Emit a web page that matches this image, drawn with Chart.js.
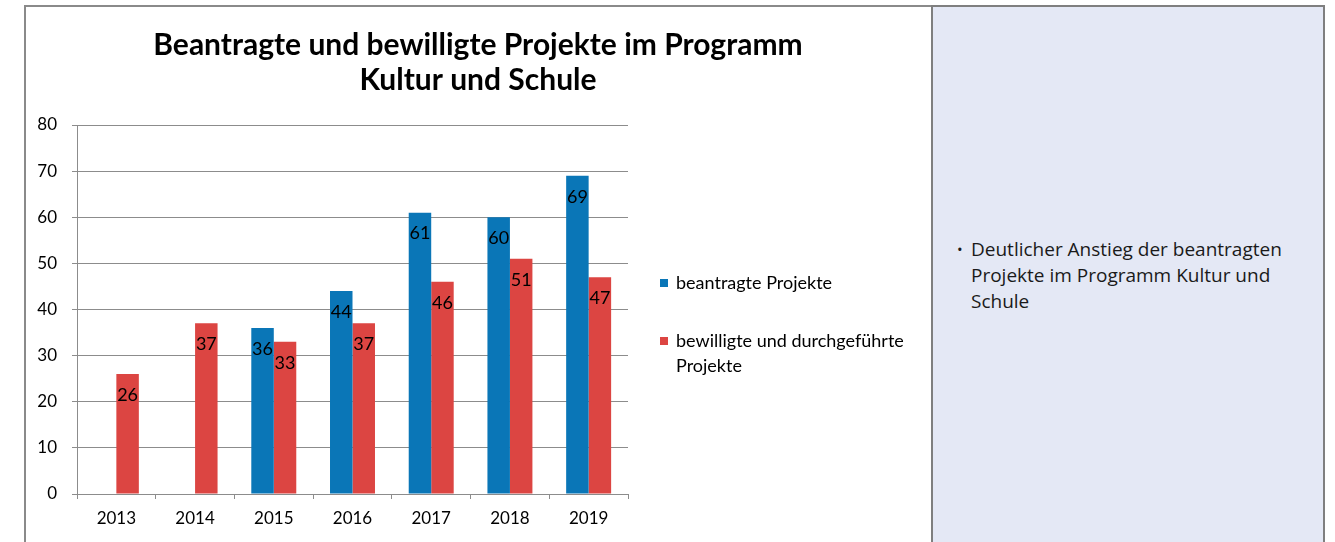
<!DOCTYPE html>
<html>
<head>
<meta charset="utf-8">
<script src="https://cdn.jsdelivr.net/npm/chart.js@4.4.1/dist/chart.umd.min.js"></script>
<style>
  html, body { margin: 0; padding: 0; background: #ffffff; }
  body { width: 1335px; height: 542px; position: relative; overflow: hidden; }
  #frame { position: absolute; left: 24px; top: 5px; width: 1300px; height: 540px;
           border-left: 2px solid #8a8a8a; border-top: 2px solid #8a8a8a; box-sizing: border-box; }
  #chartbox { position: absolute; left: 26px; top: 7px; width: 905px; height: 535px; }
  #panel { position: absolute; left: 931px; top: 5px; width: 394px; height: 540px;
           background: #e4e8f5; border-left: 2px solid #7f7f7f; border-right: 2px solid #7f7f7f;
           border-top: 2px solid #7f7f7f; box-sizing: border-box; }
  #panel ul { margin: 0; padding: 0; list-style: none; position: absolute; left: 24px; top: 229px;
              font-family: "Open Sans", sans-serif; font-size: 19px; line-height: 26px; color: #1a1a1a; }
  #panel li { position: relative; padding-left: 14px; }
  #panel li::before { content: "\2022"; position: absolute; left: 0; top: 0; font-size: 15px; }
</style>
</head>
<body>
<div id="frame"></div>
<div id="chartbox"><canvas id="c"></canvas></div>
<div id="panel"><ul><li>Deutlicher Anstieg der beantragten<br>Projekte im Programm Kultur und<br>Schule</li></ul></div>
<script>
const titleLines = ["Beantragte und bewilligte Projekte im Programm", "Kultur und Schule"];
const categories = ["2013", "2014", "2015", "2016", "2017", "2018", "2019"];
const beantragt = [null, null, 36, 44, 61, 60, 69];
const bewilligt = [26, 37, 33, 37, 46, 51, 47];
const seriesNames = ["beantragte Projekte", "bewilligte und durchgeführte Projekte"];
const yTicks = [0, 10, 20, 30, 40, 50, 60, 70, 80];

const BLUE = "#0a76b7";
const RED = "#dc4542";
const GRID = "#8c8c8c";
const FONT = "Lato, 'Liberation Sans', sans-serif";

const titlePlugin = {
  id: "titleDraw",
  afterDraw(chart) {
    const ctx = chart.ctx;
    ctx.save();
    ctx.fillStyle = "#000";
    ctx.font = "bold 30px " + FONT;
    ctx.textAlign = "center";
    ctx.textBaseline = "middle";
    titleLines.forEach((t, i) => ctx.fillText(t, 452, 38 + i * 35));
    ctx.restore();
  }
};

const labelPlugin = {
  id: "valueLabels",
  afterDatasetsDraw(chart) {
    const ctx = chart.ctx;
    ctx.save();
    ctx.fillStyle = "#000";
    ctx.font = "18px " + FONT;
    ctx.textAlign = "center";
    ctx.textBaseline = "middle";
    chart.data.datasets.forEach((ds, di) => {
      const meta = chart.getDatasetMeta(di);
      meta.data.forEach((bar, i) => {
        const v = ds.data[i];
        if (v === null || v === undefined) return;
        ctx.fillText(String(v), bar.x, bar.y + 21);
      });
    });
    ctx.restore();
  }
};

const legendPlugin = {
  id: "legendDraw",
  afterDraw(chart) {
    const ctx = chart.ctx;
    ctx.save();
    ctx.font = "18px " + FONT;
    ctx.textBaseline = "middle";
    const x0 = 634, maxW = 250;
    const ys = [276, 334];
    chart.data.datasets.forEach((ds, di) => {
      const words = ds.label.split(" ");
      const lines = [];
      let cur = "";
      words.forEach(w => {
        const test = cur ? cur + " " + w : w;
        if (ctx.measureText(test).width > maxW && cur) { lines.push(cur); cur = w; }
        else cur = test;
      });
      if (cur) lines.push(cur);
      ctx.fillStyle = ds.backgroundColor;
      ctx.fillRect(x0, ys[di] - 4, 8, 8);
      ctx.fillStyle = "#000";
      lines.forEach((l, li) => ctx.fillText(l, x0 + 16, ys[di] + li * 25));
    });
    ctx.restore();
  }
};

new Chart(document.getElementById("c"), {
  type: "bar",
  data: {
    labels: categories,
    datasets: [
      { label: seriesNames[0], data: beantragt, backgroundColor: BLUE, borderWidth: 0 },
      { label: seriesNames[1], data: bewilligt, backgroundColor: RED, borderWidth: 0 }
    ]
  },
  options: {
    responsive: true,
    maintainAspectRatio: false,
    animation: false,
    datasets: { bar: { categoryPercentage: 2 / 3.5, barPercentage: 1 } },
    layout: { padding: { top: 118, right: 303, left: 0, bottom: 0 } },
    plugins: {
      legend: { display: false },
      title: { display: false },
      tooltip: { enabled: false }
    },
    scales: {
      x: {
        offset: true,
        grid: { display: true, drawOnChartArea: false, drawTicks: true, tickLength: 5, color: GRID },
        border: { display: true, color: GRID, width: 1 },
        ticks: { color: "#000", font: { family: FONT, size: 17 }, padding: 9 },
        afterFit(scale) { scale.height = 48; }
      },
      y: {
        min: 0, max: 80,
        afterBuildTicks(scale) { scale.ticks = yTicks.map(v => ({ value: v })); },
        grid: { color: GRID, tickLength: 5, drawTicks: true },
        border: { display: true, color: GRID, width: 1 },
        ticks: { color: "#000", font: { family: FONT, size: 17 }, padding: 15 },
        afterFit(scale) { scale.width = 51; }
      }
    }
  },
  plugins: [titlePlugin, labelPlugin, legendPlugin]
});
</script>
</body>
</html>
